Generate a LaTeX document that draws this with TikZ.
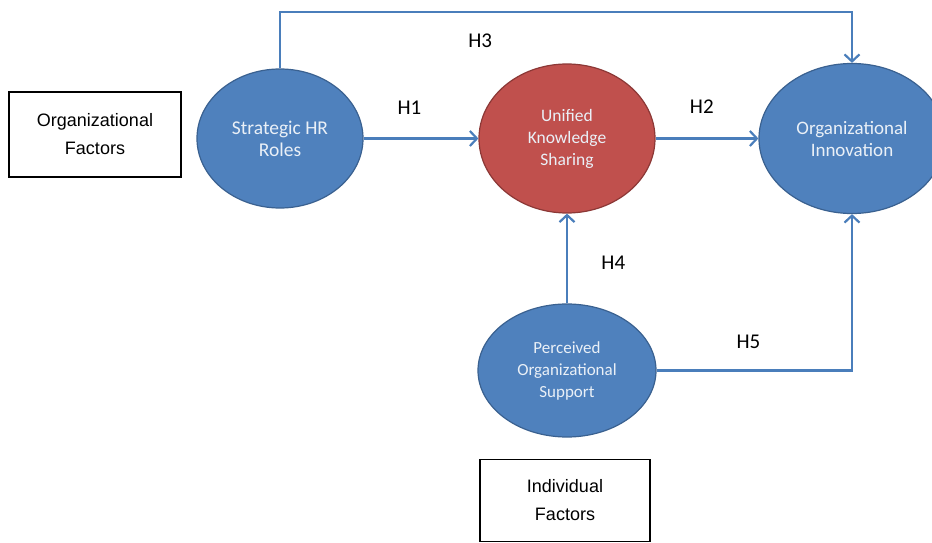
\documentclass[tikz,border=0pt]{standalone}
\usepackage{fontspec}
\setmainfont{Carlito}
\newfontfamily\boxfont{Liberation Sans}
\usetikzlibrary{shapes.geometric,arrows.meta}
\definecolor{ovalblue}{HTML}{4F81BD}
\definecolor{ovalline}{HTML}{3A6190}
\definecolor{ovalred}{HTML}{C0504D}
\definecolor{redline}{HTML}{8C3836}
\definecolor{linkblue}{HTML}{4A7EBB}
\tikzset{node distance=2cm, auto,
  construct/.style={ellipse, draw=ovalline, line width=1.2pt, fill=ovalblue,
    text=white!88!ovalblue, align=center, inner sep=0pt,
    font=\fontsize{17}{22}\selectfont},
  factor/.style={draw, line width=1.3pt, minimum width=172pt, minimum height=85pt,
    align=center, font=\boxfont\fontsize{18}{28}\selectfont},
  link/.style={draw=linkblue, line width=2.2pt,
    -{Straight Barb[length=7pt,width=15pt]}},
  hyp/.style={font=\fontsize{21}{24}\selectfont}}

\begin{document}
\begin{tikzpicture}
  \useasboundingbox (-280pt,-404.5pt) rectangle (652pt,138.5pt);
  \node (SHR) [construct, minimum width=166pt, minimum height=139pt,
    font=\fontsize{19.5}{22}\selectfont] {Strategic HR\\Roles};
  \node (UKS) [construct, fill=ovalred, draw=redline, minimum width=176pt, minimum height=149pt,
    right of=SHR, node distance=287pt, font=\fontsize{17.5}{22}\selectfont] {Unified\\Knowledge\\Sharing};
  \node (OI) [construct, minimum width=186pt, minimum height=150pt,
    right of=UKS, node distance=285pt, font=\fontsize{19}{22}\selectfont] {Organizational\\Innovation};
  \node (POS) [construct, minimum width=178pt, minimum height=133pt,
    below of=UKS, node distance=232pt] {Perceived\\Organizational\\Support};
  \node (OF) [factor, left of=SHR, node distance=185pt, yshift=4pt] {Organizational\\Factors};
  \node (IF) [factor, minimum width=170pt, minimum height=82pt,
    below of=POS, node distance=130pt, xshift=-2pt] {Individual\\Factors};
  \draw[link] (SHR) to node [hyp, pos=0.4, above=20pt] {H1} (UKS);
  \draw[link] (UKS) to node [hyp, pos=0.45, above=21pt] {H2} (OI);
  \draw[link] (SHR.north) -- ++(0,56pt) -| node [hyp, pos=0.175, below=17pt] {H3} (OI.north);
  \draw[link] (POS) to node [hyp, pos=0.45, right=30pt] {H4} (UKS);
  \draw[link] (POS.east) -| node [hyp, pos=0.235, above=17pt] {H5} (OI.south);
\end{tikzpicture}
\end{document}
